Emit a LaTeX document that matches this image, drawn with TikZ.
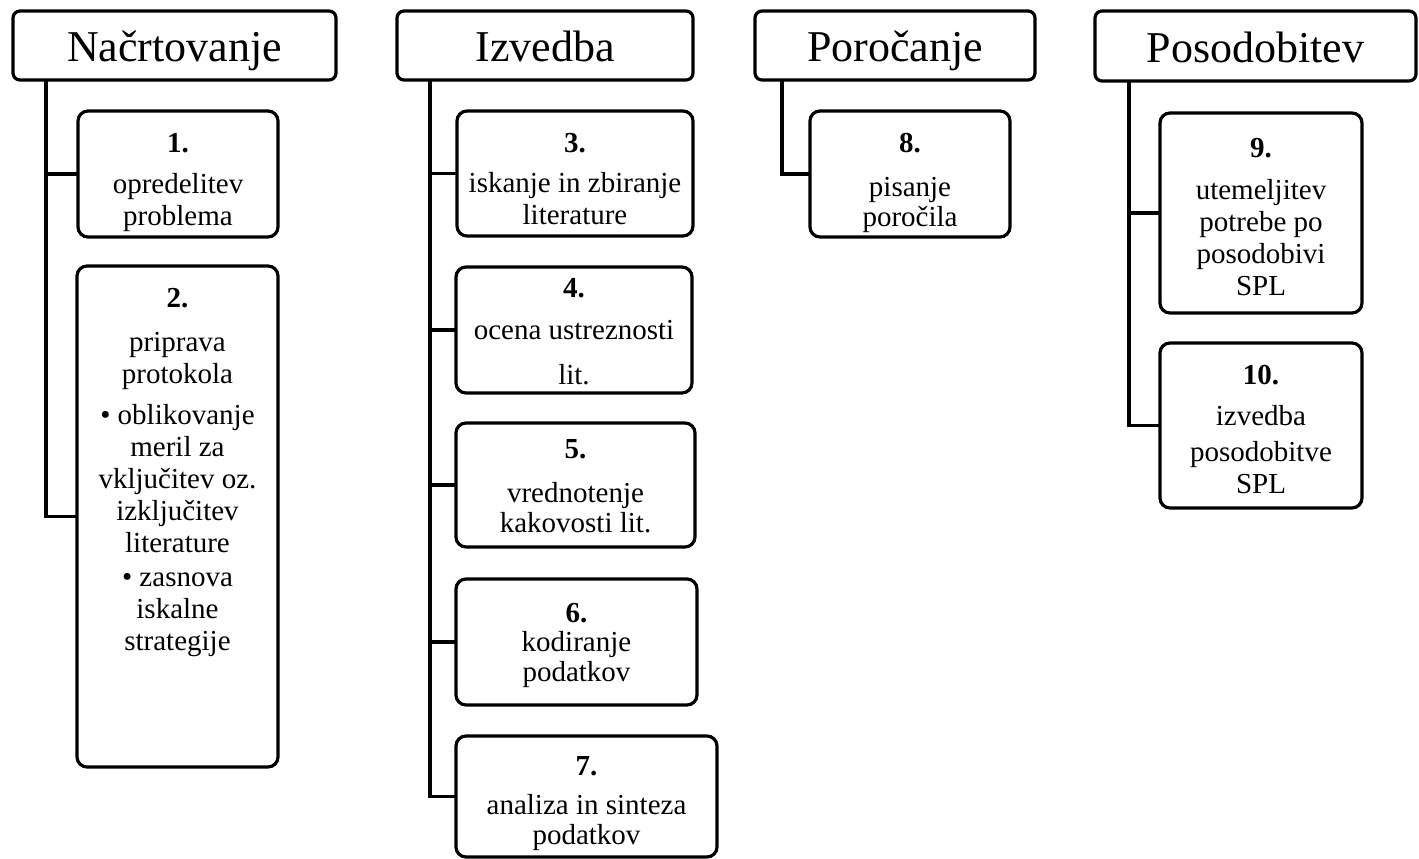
\documentclass[tikz,border=0pt]{standalone}
\usepackage{fontspec}
\setmainfont{Liberation Serif}
\begin{document}
\begin{tikzpicture}[x=1pt,y=-1pt,
  lw/.style={line width=3.2pt},
  stepbox/.style={draw, lw, rounded corners=10pt, inner sep=0pt, outer sep=0pt, anchor=north west},
  headbox/.style={draw, lw, rounded corners=7pt, inner sep=0pt, outer sep=0pt, anchor=north west,
    font=\fontsize{44}{50}\selectfont, text height=33pt, text depth=0pt},
  steptext/.style={align=center, inner sep=0pt, outer sep=0pt, anchor=north,
    font=\fontsize{29}{32}\selectfont},
  link/.style={lw}
]
\useasboundingbox (0,0) rectangle (1419,859);

% headers
\node[headbox, minimum width=323pt, minimum height=69pt] (h1) at (13,11) {Načrtovanje};
\node[headbox, minimum width=296pt, minimum height=69pt] (h2) at (397,11) {Izvedba};
\node[headbox, minimum width=280pt, minimum height=69pt] (h3) at (755,11) {Poročanje};
\node[headbox, minimum width=321pt, minimum height=70pt] (h4) at (1095,11) {Posodobitev};

% step boxes
\node[stepbox, minimum width=200pt, minimum height=126pt] (b1) at (78,111) {};
\node[stepbox, minimum width=201pt, minimum height=501pt] (b2) at (77,266) {};
\node[stepbox, minimum width=236pt, minimum height=125pt] (b3) at (457,111) {};
\node[stepbox, minimum width=236pt, minimum height=126pt] (b4) at (456,267) {};
\node[stepbox, minimum width=239pt, minimum height=124pt] (b5) at (456,423) {};
\node[stepbox, minimum width=241pt, minimum height=126pt] (b6) at (456,579) {};
\node[stepbox, minimum width=261pt, minimum height=121pt] (b7) at (456,736) {};
\node[stepbox, minimum width=200pt, minimum height=126pt] (b8) at (810,111) {};
\node[stepbox, minimum width=202pt, minimum height=200pt] (b9) at (1160,113) {};
\node[stepbox, minimum width=202pt, minimum height=165pt] (b10) at (1160,343) {};

% texts
\node[steptext] (t1) at (178,133) {\textbf{1.}\\[9pt]opredelitev\\problema};
\node[steptext] (t2) at (177.5,288) {\textbf{2.}\\[12pt]priprava\\protokola\\[9pt]• oblikovanje\\meril za\\vključitev oz.\\izključitev\\literature\\[2pt]• zasnova\\iskalne\\strategije};
\node[steptext] (t3) at (575,133) {\textbf{3.}\\[8pt]iskanje in zbiranje\\literature};
\node[steptext] (t4) at (574,278) {\textbf{4.}\\[10pt]ocena ustreznosti\\[13pt]lit.};
\node[steptext] (t5) at (575.5,440) {\textbf{5.}\\[12pt]vrednotenje\\[-2pt]kakovosti lit.};
\node[steptext] (t6) at (576.5,603) {\textbf{6.}\\[-3pt]kodiranje\\[-2pt]podatkov};
\node[steptext] (t7) at (586.5,757) {\textbf{7.}\\[7pt]analiza in sinteza\\[-2pt]podatkov};
\node[steptext] (t8) at (910,133) {\textbf{8.}\\[12pt]pisanje\\[-2pt]poročila};
\node[steptext] (t9) at (1261,138) {\textbf{9.}\\[10pt]utemeljitev\\potrebe po\\posodobivi\\SPL};
\node[steptext] (t10) at (1261,365) {\textbf{10.}\\[9pt]izvedba\\[4pt]posodobitve\\SPL};

% connectors
\draw[link] ([xshift=33pt]h1.south west) |- (b1.west);
\draw[link] ([xshift=33pt]h1.south west) |- (b2.west);
\draw[link] ([xshift=33pt]h2.south west) |- (b3.west);
\draw[link] ([xshift=33pt]h2.south west) |- (b4.west);
\draw[link] ([xshift=33pt]h2.south west) |- (b5.west);
\draw[link] ([xshift=33pt]h2.south west) |- (b6.west);
\draw[link] ([xshift=33pt]h2.south west) |- (b7.west);
\draw[link] ([xshift=27pt]h3.south west) |- (b8.west);
\draw[link] ([xshift=34pt]h4.south west) |- (b9.west);
\draw[link] ([xshift=34pt]h4.south west) |- (b10.west);
\end{tikzpicture}
\end{document}
